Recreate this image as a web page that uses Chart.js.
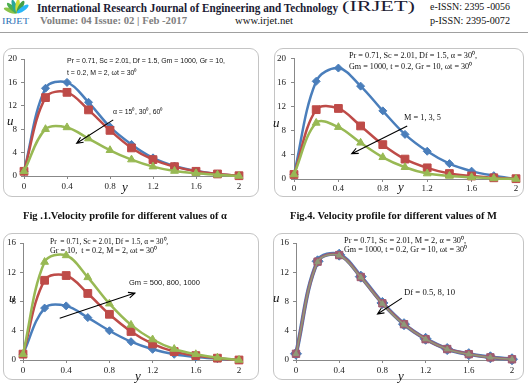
<!DOCTYPE html>
<html><head><meta charset="utf-8">
<script src="https://cdn.jsdelivr.net/npm/chart.js@4"></script>
<style>
html,body{margin:0;padding:0;background:#fff;}
body{width:528px;height:392px;position:relative;overflow:hidden;}
.t{position:absolute;white-space:nowrap;line-height:1;transform-origin:0 50%;font-family:"Liberation Serif","Times New Roman",serif;color:#111;}
.s{font-family:"Liberation Sans",Arial,sans-serif;}
.i{font-style:italic;}
.b{font-weight:bold;}
.box{position:absolute;border:1px solid #c4c4c4;border-radius:9px;box-sizing:border-box;}
canvas{position:absolute;}
</style></head><body>

<svg style="position:absolute;left:0;top:0" width="34" height="28">
  <g transform="translate(17,13)">
    <ellipse cx="0" cy="-7" rx="2.2" ry="7" fill="#8bc34a" transform="rotate(-70)"/>
    <ellipse cx="0" cy="-7" rx="2.2" ry="7" fill="#4caf50" transform="rotate(-45)"/>
    <ellipse cx="0" cy="-7" rx="2.2" ry="7" fill="#26a69a" transform="rotate(-20)"/>
    <ellipse cx="0" cy="-7" rx="2.2" ry="7" fill="#cddc39" transform="rotate(5)"/>
    <ellipse cx="0" cy="-7" rx="2.2" ry="7" fill="#43a047" transform="rotate(30)"/>
    <ellipse cx="0" cy="-7" rx="2.2" ry="7" fill="#29b6f6" transform="rotate(55)"/>
  </g>
</svg>
<div class="t" style="left:2px;top:21px;font-size:9px;color:#2a6fb5" data-w="27">IRJET</div>

<div class="t b" style="left:37px;top:6.5px;font-size:13px;color:#1b1b33" data-w="301">International Research Journal of Engineering and Technology</div>
<div class="t" style="left:342px;top:6.5px;font-size:14px;color:#1b1b33" data-w="73">(IRJET)</div>
<div class="t" style="left:430px;top:6.5px;font-size:10px" data-w="80">e-ISSN: 2395 -0056</div>
<div class="t b" style="left:40px;top:21px;font-size:10px;color:#808080" data-w="147">Volume: 04 Issue: 02 | Feb -2017</div>
<div class="t" style="left:235px;top:21px;font-size:10px" data-w="58">www.irjet.net</div>
<div class="t" style="left:430px;top:21px;font-size:10px" data-w="80">p-ISSN: 2395-0072</div>
<div style="position:absolute;left:0;top:31.5px;width:528px;height:1.5px;background:#a0a0a0"></div>

<div class="box" style="left:3px;top:48px;width:256px;height:149px"></div>
<div class="box" style="left:274px;top:48px;width:250px;height:149px"></div>
<div class="box" style="left:3px;top:233px;width:256px;height:147px"></div>
<div class="box" style="left:273px;top:233px;width:251px;height:147px"></div>

<canvas id="c1" width="256" height="149" style="left:3px;top:48px"></canvas>
<canvas id="c2" width="250" height="149" style="left:274px;top:48px"></canvas>
<canvas id="c3" width="256" height="147" style="left:3px;top:233px"></canvas>
<canvas id="c4" width="251" height="147" style="left:273px;top:233px"></canvas>

<!-- chart 1 texts -->
<div class="t s" style="left:67px;top:61px;font-size:8px" data-w="158">Pr = 0.71, Sc = 2.01, Df = 1.5, Gm = 1000, Gr = 10,</div>
<div class="t s" style="left:67px;top:73px;font-size:8px" data-w="70">t = 0.2, M = 2, ωt = 30⁰</div>
<div class="t s" style="left:113px;top:112px;font-size:8px" data-w="50">α = 15⁰, 30⁰, 60⁰</div>
<div class="t i" style="left:7px;top:120px;font-size:13px">u</div>
<div class="t i" style="left:122px;top:186px;font-size:13px">y</div>

<!-- chart 2 texts -->
<div class="t" style="left:349px;top:55px;font-size:8.5px" data-w="128">Pr = 0.71, Sc = 2.01, Df = 1.5, α = 30⁰,</div>
<div class="t" style="left:349px;top:66px;font-size:8.5px" data-w="123">Gm = 1000, t = 0.2, Gr = 10, ωt = 30⁰</div>
<div class="t" style="left:404px;top:117px;font-size:8.5px" data-w="37">M = 1, 3, 5</div>
<div class="t i" style="left:273px;top:122px;font-size:13px">u</div>
<div class="t i" style="left:398px;top:186px;font-size:13px">y</div>

<!-- chart 3 texts -->
<div class="t" style="left:50px;top:241px;font-size:8.5px" data-w="118">Pr&nbsp; = 0.71, Sc = 2.01, Df = 1.5, α = 30⁰,</div>
<div class="t" style="left:50px;top:250px;font-size:8.5px" data-w="107">Gr = 10,&nbsp; t = 0.2, M = 2, ωt = 30⁰</div>
<div class="t s" style="left:129px;top:283px;font-size:8px" data-w="71">Gm = 500, 800, 1000</div>
<div class="t i" style="left:9px;top:297px;font-size:13px">u</div>
<div class="t i" style="left:135px;top:375px;font-size:13px">y</div>

<!-- chart 4 texts -->
<div class="t" style="left:344px;top:240px;font-size:8.5px" data-w="122">Pr = 0.71, Sc = 2.01, M = 2, α = 30⁰,</div>
<div class="t" style="left:344px;top:249px;font-size:8.5px" data-w="123">Gm = 1000, t = 0.2, Gr = 10, ωt = 30⁰</div>
<div class="t" style="left:404px;top:292px;font-size:8.5px" data-w="51">Df = 0.5, 8, 10</div>
<div class="t i" style="left:273px;top:297px;font-size:13px">u</div>
<div class="t i" style="left:398px;top:375px;font-size:13px">y</div>

<!-- captions -->
<div class="t b" style="left:23px;top:215px;font-size:11px" data-w="204">Fig .1.Velocity profile for different values of α</div>
<div class="t b" style="left:290px;top:215px;font-size:11px" data-w="207">Fig.4. Velocity profile for different values of M</div>

<script>
// ---- data ----
const yPos = [0, 0.2, 0.4, 0.6, 0.8, 1.0, 1.2, 1.4, 1.6, 1.8, 2.0];
const xTickLabels = [0, 0.4, 0.8, 1.2, 1.6, 2];
const yTicks20 = [0, 4, 8, 12, 16, 20];
const yTicks16 = [0, 4, 8, 12, 16];

// Fig 1: alpha = 15, 30, 60
const alpha15 = [0.8, 15.0, 16.0, 12.6, 8.4, 5.4, 3.1, 1.7, 0.85, 0.35, 0.0];
const alpha30 = [0.8, 13.4, 14.3, 11.3, 7.8, 4.8, 2.8, 1.6, 0.8, 0.35, 0.05];
const alpha60 = [0.8, 8.0, 8.3, 6.4, 4.4, 2.8, 1.6, 0.85, 0.45, 0.2, 0.0];

// Fig 4: M = 1, 3, 5
const m1 = [0.75, 16.2, 18.4, 15.4, 11.3, 7.4, 4.6, 2.55, 1.3, 0.55, 0.0];
const m3 = [0.75, 11.5, 11.7, 8.8, 5.7, 3.3, 1.85, 0.9, 0.5, 0.2, 0.05];
const m5 = [0.75, 9.3, 8.6, 6.0, 3.6, 1.95, 0.9, 0.5, 0.27, 0.1, 0.0];

// Gm = 500, 800, 1000
const gm500 = [0.8, 7.1, 7.4, 5.8, 4.0, 2.5, 1.46, 0.78, 0.4, 0.18, 0.0];
const gm800 = [0.8, 10.9, 11.55, 9.1, 6.25, 3.9, 2.2, 1.15, 0.6, 0.25, 0.0];
const gm1000 = [0.8, 13.4, 14.3, 11.3, 7.7, 4.8, 2.8, 1.5, 0.78, 0.3, 0.0];

// Df = 0.5, 8, 10
const df05 = [0.85, 13.5, 14.4, 11.4, 7.8, 4.9, 2.9, 1.5, 0.8, 0.37, 0.1];
const df8 = [0.85, 13.45, 14.35, 11.35, 7.75, 4.9, 2.85, 1.5, 0.8, 0.36, 0.1];
const df10 = [0.85, 13.4, 14.3, 11.3, 7.7, 4.85, 2.85, 1.48, 0.78, 0.35, 0.1];

// ---- text width fitting ----
document.querySelectorAll('.t').forEach(el => {
  let tr = 'translateY(-50%)';
  const w = parseFloat(el.dataset.w);
  if (w) { const k = w / el.getBoundingClientRect().width; tr += ' scaleX(' + k + ')'; }
  el.style.transform = tr;
});

const BLUE = '#4a7ebb', RED = '#be4b48', GREEN = '#98b954';

const arrowPlugin = {
  id: 'arrow',
  afterDatasetsDraw(chart, args, opts) {
    if (!opts || !opts.from) return;
    const sx = chart.scales.x, sy = chart.scales.y, ctx = chart.ctx;
    const x1 = sx.getPixelForValue(opts.from[0]), y1 = sy.getPixelForValue(opts.from[1]);
    const x2 = sx.getPixelForValue(opts.to[0]), y2 = sy.getPixelForValue(opts.to[1]);
    const a = Math.atan2(y2 - y1, x2 - x1), L = 7, sp = 0.42;
    ctx.save();
    ctx.strokeStyle = '#000'; ctx.lineWidth = 1.1;
    ctx.beginPath(); ctx.moveTo(x1, y1); ctx.lineTo(x2, y2);
    ctx.moveTo(x2 - L * Math.cos(a - sp), y2 - L * Math.sin(a - sp));
    ctx.lineTo(x2, y2);
    ctx.lineTo(x2 - L * Math.cos(a + sp), y2 - L * Math.sin(a + sp));
    ctx.stroke();
    ctx.restore();
  }
};

function ds(vals, color, style, r, lw, order) {
  return {
    data: yPos.map((x, i) => ({x: x, y: vals[i]})),
    borderColor: color, backgroundColor: color,
    pointStyle: style, pointRadius: r, pointBorderWidth: 1,
    pointBorderColor: color, pointBackgroundColor: color,
    borderWidth: lw, tension: 0.36, order: order, clip: false
  };
}

function make(id, datasets, yMax, yTicks, L, arrow) {
  new Chart(document.getElementById(id), {
    type: 'line',
    data: {datasets},
    plugins: [arrowPlugin],
    options: {
      responsive: false, animation: false, devicePixelRatio: 1,
      layout: {padding: {left: L.pl, right: L.pr, top: L.pt, bottom: L.pb}},
      plugins: {legend: {display: false}, tooltip: {enabled: false}, arrow: arrow},
      scales: {
        x: {
          type: 'linear', min: 0, max: 2,
          afterBuildTicks: s => { s.ticks = xTickLabels.map(v => ({value: v})); },
          afterFit: s => { s.height = L.xh; },
          grid: {drawOnChartArea: false, drawTicks: true, tickLength: 3, color: '#888'},
          border: {color: '#888', width: 1},
          ticks: {font: {family: 'Liberation Serif', size: 9}, color: '#222', padding: L.xp, maxRotation: 0,
                  callback: v => String(+(+v).toFixed(1))}
        },
        y: {
          min: 0, max: yMax,
          afterBuildTicks: s => { s.ticks = yTicks.map(v => ({value: v})); },
          afterFit: s => { s.width = L.yw; },
          grid: {drawOnChartArea: false, drawTicks: true, tickLength: 3, color: '#888'},
          border: {color: '#888', width: 1},
          ticks: {font: {family: 'Liberation Serif', size: 9}, color: '#222', padding: L.yp}
        }
      }
    }
  });
}

make('c1', [
  ds(alpha15, BLUE, 'rectRot', 4, 2.5, 2),
  ds(alpha30, RED, 'rect', 5.5, 2.5, 1),
  ds(alpha60, GREEN, 'triangle', 4.5, 2.5, 0)
], 20, yTicks20, {pl: 3, yw: 18, pr: 20, pt: 11, xh: 18, pb: 3, xp: 2, yp: 4},
  {from: [0.83, 9.6], to: [0.49, 5.6]});

make('c2', [
  ds(m1, BLUE, 'rectRot', 4, 2.5, 2),
  ds(m3, RED, 'rect', 5.5, 2.5, 1),
  ds(m5, GREEN, 'triangle', 4.5, 2.5, 0)
], 20, yTicks20, {pl: 3, yw: 17, pr: 8, pt: 8, xh: 16, pb: 2, xp: 1.5, yp: 5},
  {from: [1.02, 8.8], to: [0.52, 4.2]});

make('c3', [
  ds(gm500, BLUE, 'rectRot', 4, 2.5, 2),
  ds(gm800, RED, 'rect', 5.5, 2.5, 1),
  ds(gm1000, GREEN, 'triangle', 4.5, 2.5, 0)
], 16, yTicks16, {pl: 3, yw: 17, pr: 20, pt: 10, xh: 17, pb: 3, xp: 2, yp: 4},
  {from: [0.34, 5.7], to: [1.036, 9.15]});

make('c4', [
  ds(df05, BLUE, 'rectRot', 5.5, 4, 2),
  ds(df8, '#a05a70', 'rect', 5.2, 3, 1),
  ds(df10, '#8f9a78', 'triangle', 3.2, 1.5, 0)
], 16, yTicks16, {pl: 5, yw: 18, pr: 12, pt: 10, xh: 17, pb: 3, xp: 2, yp: 4},
  {from: [0.98, 8.46], to: [0.755, 6.3]});
</script>
</body></html>
